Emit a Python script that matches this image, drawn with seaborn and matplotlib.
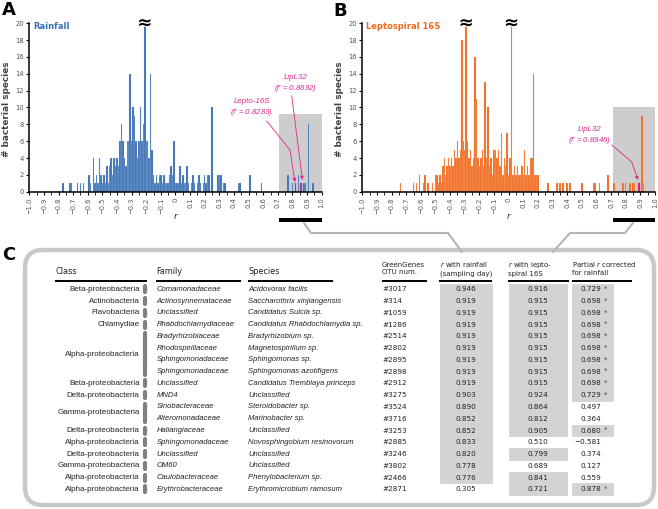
import numpy as np
import seaborn as sns
import matplotlib.pyplot as plt
import matplotlib.transforms as mtransforms
from matplotlib.patches import Rectangle, FancyBboxPatch
from matplotlib import patheffects as pe

# ---- panel A: species correlation with rainfall (bin centre r, count) ----
rain_r = [-0.77, -0.72, -0.71, -0.67, -0.65, -0.63, -0.59, -0.58, -0.56, -0.55,
          -0.54, -0.53, -0.52, -0.51, -0.50, -0.49, -0.48, -0.47, -0.46, -0.45,
          -0.44, -0.43, -0.42, -0.41, -0.40, -0.39, -0.38, -0.37, -0.36, -0.35,
          -0.34, -0.33, -0.32, -0.31, -0.30, -0.29, -0.28, -0.27, -0.26, -0.25,
          -0.24, -0.23, -0.22, -0.21, -0.20, -0.19, -0.18, -0.17, -0.16, -0.15,
          -0.14, -0.13, -0.12, -0.11, -0.10, -0.09, -0.08, -0.07, -0.06, -0.05,
          -0.04, -0.03, -0.02, -0.01, 0.00, 0.01, 0.02, 0.03, 0.04, 0.05,
          0.06, 0.07, 0.08, 0.09, 0.11, 0.12, 0.13, 0.15, 0.16, 0.17,
          0.19, 0.20, 0.21, 0.22, 0.23, 0.25, 0.29, 0.30, 0.31, 0.33,
          0.34, 0.43, 0.44, 0.51, 0.59, 0.77, 0.80, 0.84, 0.88, 0.89,
          0.91, 0.94]
rain_n = [1, 1, 1, 1, 1, 1, 2, 1, 4, 1,
          2, 1, 4, 2, 1, 2, 1, 3, 1, 3,
          4, 2, 4, 3, 4, 3, 6, 8, 6, 4,
          3, 6, 6, 14, 6, 10, 9, 6, 4, 6,
          10, 6, 8, 21, 6, 6, 4, 14, 5, 2,
          1, 2, 1, 2, 2, 1, 2, 1, 1, 1,
          2, 3, 2, 6, 1, 1, 1, 3, 1, 2,
          1, 1, 3, 1, 1, 2, 1, 1, 2, 1,
          1, 2, 1, 2, 2, 10, 2, 2, 2, 1,
          1, 1, 1, 2, 1, 2, 1, 2, 1, 1,
          8, 1]
rain_hi_r = [0.82, 0.86]          # Lepto-16S and LipL32
rain_hi_n = [1, 1]
rain_broken = [-0.21]

# ---- panel B: species correlation with leptospiral 16S ----
lepto_r = [-0.74, -0.65, -0.63, -0.61, -0.58, -0.57, -0.55, -0.52, -0.50, -0.49,
           -0.48, -0.47, -0.46, -0.45, -0.44, -0.43, -0.42, -0.41, -0.40, -0.39,
           -0.38, -0.37, -0.36, -0.35, -0.34, -0.33, -0.32, -0.31, -0.30, -0.29,
           -0.28, -0.27, -0.26, -0.25, -0.24, -0.23, -0.22, -0.21, -0.20, -0.19,
           -0.18, -0.17, -0.16, -0.15, -0.14, -0.13, -0.12, -0.11, -0.10, -0.09,
           -0.08, -0.07, -0.06, -0.05, -0.04, -0.03, -0.02, -0.01, 0.00, 0.01,
           0.02, 0.03, 0.04, 0.05, 0.06, 0.07, 0.08, 0.09, 0.10, 0.11,
           0.12, 0.13, 0.14, 0.15, 0.16, 0.17, 0.18, 0.19, 0.20, 0.27,
           0.33, 0.35, 0.37, 0.40, 0.42, 0.50, 0.58, 0.59, 0.62, 0.68,
           0.72, 0.78, 0.80, 0.83, 0.85, 0.86, 0.91, 0.92]
lepto_n = [1, 1, 1, 2, 1, 2, 1, 1, 2, 2,
           1, 2, 1, 3, 4, 2, 3, 4, 3, 4,
           3, 5, 4, 6, 4, 5, 18, 6, 5, 21,
           6, 4, 5, 3, 4, 16, 11, 4, 3, 4,
           5, 3, 13, 4, 10, 3, 4, 2, 5, 5,
           4, 5, 3, 7, 2, 4, 3, 7, 2, 4,
           21, 2, 3, 2, 3, 2, 2, 3, 2, 5,
           2, 3, 2, 4, 4, 14, 2, 2, 2, 1,
           1, 1, 1, 1, 1, 1, 1, 1, 1, 2,
           1, 1, 1, 1, 1, 1, 9, 1]
lepto_hi_r = [0.89]               # LipL32
lepto_hi_n = [1]
lepto_broken = [-0.29, 0.02]

r_ticks = [-1.0, -0.9, -0.8, -0.7, -0.6, -0.5, -0.4, -0.3, -0.2, -0.1, 0.0,
           0.1, 0.2, 0.3, 0.4, 0.5, 0.6, 0.7, 0.8, 0.9, 1.0]
r_tick_labels = ["\u22121.0", "\u22120.9", "\u22120.8", "\u22120.7", "\u22120.6",
                 "\u22120.5", "\u22120.4", "\u22120.3", "\u22120.2", "\u22120.1", "0",
                 "0.1", "0.2", "0.3", "0.4", "0.5", "0.6", "0.7", "0.8", "0.9", "1.0"]
count_ticks = [0, 2, 4, 6, 8, 10, 12, 14, 16, 18, 20]

# ---- panel C: table ----
class_names = ["Beta-proteobacteria", "Actinobacteria", "Flavobacteria", "Chlamydiae",
               "Alpha-proteobacteria", "Beta-proteobacteria", "Delta-proteobacteria",
               "Gamma-proteobacteria", "Delta-proteobacteria", "Alpha-proteobacteria",
               "Delta-proteobacteria", "Gamma-proteobacteria", "Alpha-proteobacteria",
               "Alpha-proteobacteria"]
class_rows = [1, 1, 1, 1, 4, 1, 1, 2, 1, 1, 1, 1, 1, 1]
families = ["Comamonadaceae", "Actinosynnemataceae", "Unclassified", "Rhabdochlamydiaceae",
            "Bradyrhizobiaceae", "Rhodospirillaceae", "Sphingomonadaceae", "Sphingomonadaceae",
            "Unclassified", "MND4", "Sinobacteraceae", "Alteromonadaceae", "Haliangiaceae",
            "Sphingomonadaceae", "Unclassified", "OM60", "Caulobacteraceae", "Erythrobacteraceae"]
species = ["Acidovorax facilis", "Saccharothrix xinjiangensis", "Candidatus Sulcia sp.",
           "Candidatus Rhabdochlamydia sp.", "Bradyrhizobium sp.", "Magnetospirillum sp.",
           "Sphingomonas sp.", "Sphingomonas azotifigens", "Candidatus Tremblaya princeps",
           "Unclassified", "Steroidobacter sp.", "Marinobacter sp.", "Unclassified",
           "Novosphingobium resinovorum", "Unclassified", "Unclassified",
           "Phenylobacterium sp.", "Erythromicrobium ramosum"]
otu_ids = ["#3017", "#314", "#1059", "#1286", "#2514", "#2802", "#2895", "#2898", "#2912",
           "#3275", "#3524", "#3716", "#3253", "#2885", "#3246", "#3802", "#2466", "#2871"]
r_rainfall = [0.946, 0.919, 0.919, 0.919, 0.919, 0.919, 0.919, 0.919, 0.919,
              0.903, 0.890, 0.852, 0.852, 0.833, 0.820, 0.778, 0.776, 0.305]
r_lepto = [0.916, 0.915, 0.915, 0.915, 0.915, 0.915, 0.915, 0.915, 0.915,
           0.924, 0.864, 0.812, 0.905, 0.510, 0.799, 0.689, 0.841, 0.721]
r_partial = [0.729, 0.698, 0.698, 0.698, 0.698, 0.698, 0.698, 0.698, 0.698,
             0.729, 0.497, 0.364, 0.680, -0.581, 0.374, 0.127, 0.559, 0.878]
partial_sig = [True] * 10 + [False, False, True, False, False, False, False, True]

BLUE = "#3a6fb2"
ORANGE = "#f06a1f"
MAGENTA = "#e0268f"
SHADE = "#d3d3d3"

plt.rcParams["font.family"] = ["DejaVu Sans"]
fig = plt.figure(figsize=(6.58, 5.09), dpi=100)

# pixel overlay for the table, connectors and panel letters
ov = fig.add_axes([0, 0, 1, 1], zorder=0)
ov.set_xlim(0, 658)
ov.set_ylim(509, 0)
ov.axis("off")


def hist_panel(rect, r, n, hi_r, hi_n, color, edge, hi_color, title, broken, box_top):
    ax = fig.add_axes(rect, zorder=1)
    ax.patch.set_alpha(0)
    ax.add_patch(Rectangle((0.71, 0), 0.29, box_top, color="#cdcdcd", lw=0, zorder=0))
    sns.histplot(x=r, weights=n, binwidth=0.01, binrange=(-1.005, 1.005),
                 color=color, alpha=1, edgecolor=edge, linewidth=0.15, ax=ax)
    sns.histplot(x=hi_r, weights=hi_n, binwidth=0.01, binrange=(-1.005, 1.005),
                 color=hi_color, alpha=1, edgecolor=hi_color, linewidth=0.15, ax=ax)
    for b in broken:
        ax.text(b, 20.0, "\u2248", ha="center", va="center", fontsize=13,
                fontweight="bold", color="black", zorder=5,
                path_effects=[pe.withStroke(linewidth=1.5, foreground="white")])
    ax.set_xlim(-1.0, 1.0)
    ax.set_ylim(0, 20.5)
    ax.set_xticks(r_ticks)
    ax.set_xticklabels(r_tick_labels, rotation=90, fontsize=4.9, color="#555555")
    ax.set_xticks(np.array(r_ticks[:-1]) + 0.05, minor=True)
    ax.set_yticks(count_ticks)
    ax.set_yticklabels([str(c) for c in count_ticks], fontsize=4.9, color="#555555")
    ax.tick_params(axis="both", which="major", length=2.5, width=0.8, pad=1.5)
    ax.tick_params(axis="x", which="minor", length=1.8, width=0.6)
    for s in ["top", "right"]:
        ax.spines[s].set_visible(False)
    for s in ["left", "bottom"]:
        ax.spines[s].set_linewidth(1.1)
    ax.spines["left"].set_bounds(0, 20)
    ax.set_ylabel("# bacterial species", fontsize=6.4, fontweight="bold", color="#444444")
    ax.yaxis.set_label_coords(-0.062, 0.48)
    ax.set_xlabel("r", fontsize=6.5, style="italic", color="#333333")
    ax.xaxis.set_label_coords(0.5, -0.12)
    ax.text(0.013, 0.985, title, transform=ax.transAxes, fontsize=6, fontweight="bold",
            color=color, ha="left", va="top")
    # black bar marking the zoomed range
    tr = mtransforms.blended_transform_factory(ax.transData, ax.transAxes)
    ax.add_patch(Rectangle((0.71, -0.178), 0.29, 0.026, transform=tr, color="black",
                           clip_on=False, lw=0))
    return ax


axA = hist_panel([0.0445, 0.6234, 0.4444, 0.3391], rain_r, rain_n, rain_hi_r, rain_hi_n,
                 BLUE, "#b8d0ec", "#8e44ad", "Rainfall", rain_broken, 9.2)
axB = hist_panel([0.5506, 0.6234, 0.4448, 0.3391], lepto_r, lepto_n, lepto_hi_r, lepto_hi_n,
                 ORANGE, "#fbc6a2", "#e0206e", "Leptospiral 16S", lepto_broken, 10.0)

ann_font = dict(family="Liberation Sans", style="italic", fontsize=5.7, color=MAGENTA,
                ha="center", va="center", linespacing=1.15)
arrow = dict(arrowstyle="-|>", color=MAGENTA, lw=0.6, mutation_scale=5, shrinkA=0, shrinkB=0)

axA.text(0.523, 9.9, "Lepto-16S\n($r$ = 0.8283)", **ann_font)
axA.plot([0.624, 0.783], [8.4, 4.95], color=MAGENTA, lw=0.6)
axA.annotate("", xy=(0.817, 1.15), xytext=(0.783, 4.95), arrowprops=arrow)
axA.text(0.824, 12.8, "LipL32\n($r$ = 0.8692)", **ann_font)
axA.annotate("", xy=(0.868, 1.4), xytext=(0.795, 11.4), arrowprops=arrow)

axB.text(0.553, 6.6, "LipL32\n($r$ = 0.8946)", **ann_font)
axB.plot([0.705, 0.841], [5.55, 3.53], color=MAGENTA, lw=0.6)
axB.annotate("", xy=(0.884, 1.4), xytext=(0.841, 3.53), arrowprops=arrow)

# panel letters
for x, y, letter in [(2, 1, "A"), (333, 2, "B"), (2, 246, "C")]:
    ov.text(x, y, letter, fontsize=13, fontweight="bold", ha="left", va="top")

# connectors from zoomed ranges to table columns
ov.plot([304, 311, 448, 462], [223, 233, 233, 252], color="#b5b5b5", lw=1.5,
        solid_joinstyle="round", solid_capstyle="round")
ov.plot([633, 625, 570, 553], [223, 233, 233, 252], color="#b5b5b5", lw=1.5,
        solid_joinstyle="round", solid_capstyle="round")

# table frame
ov.add_patch(FancyBboxPatch((25, 250), 629, 255, boxstyle="round,pad=0,rounding_size=18",
                            fill=False, edgecolor="#c9c9c9", lw=3.2))

row_y = 289.4 + 11.76 * np.arange(len(otu_ids))
half = 5.88

# shaded cells
for i in range(len(otu_ids)):
    if r_rainfall[i] > 0.7:
        ov.add_patch(Rectangle((440, row_y[i] - half), 52, 2 * half, color=SHADE, lw=0.6))
    if r_lepto[i] > 0.7:
        ov.add_patch(Rectangle((509, row_y[i] - half), 58, 2 * half, color=SHADE, lw=0.6))
    if partial_sig[i]:
        ov.add_patch(Rectangle((572, row_y[i] - half), 41, 2 * half, color=SHADE, lw=0.6))

# headers
hdr = dict(fontsize=5.9, ha="left", va="center", color="#222222")
ov.text(55, 271.5, "Class", **hdr)
ov.text(156.7, 271.5, "Family", **hdr)
ov.text(248.3, 271.5, "Species", **hdr)
hdr2 = dict(fontsize=5.0, ha="left", va="center", color="#222222", linespacing=1.25)
ov.text(382, 268.3, "GreenGenes\nOTU num.", **hdr2)
ov.text(439.5, 268.3, "$r$ with rainfall\n(sampling day)", **hdr2)
ov.text(508.5, 268.3, "$r$ with lepto-\nspiral 16S", **hdr2)
ov.text(572, 268.3, "Partial $r$ corrected\nfor rainfall", **hdr2)
for x0, x1 in [(55, 147), (156, 241), (248, 333), (382, 427), (439, 492), (508, 569), (572, 632)]:
    ov.plot([x0, x1], [280.5, 280.5], color="black", lw=1.4, solid_capstyle="butt")

# class column with group bars
start = 0
for name, k in zip(class_names, class_rows):
    ys = row_y[start:start + k]
    ov.text(139.5, ys.mean(), name, family="Liberation Sans", fontsize=5.8,
            ha="right", va="center", color="#222222")
    ov.plot([145, 145], [ys[0] - 3, ys[-1] + 3], color="#808080", lw=3.0,
            solid_capstyle="round")
    start += k

name_font = dict(family="Liberation Sans", style="italic", fontsize=5.5, ha="left",
                 va="center", color="#222222")
num_font = dict(fontsize=5.2, va="center", color="#222222")
for i, y in enumerate(row_y):
    ov.text(156.7, y, families[i], **name_font)
    ov.text(248.3, y, species[i], **name_font)
    ov.text(382, y, otu_ids[i], ha="left", **num_font)
    ov.text(466, y, f"{r_rainfall[i]:.3f}", ha="center", **num_font)
    ov.text(537.5, y, f"{r_lepto[i]:.3f}", ha="center", **num_font)
    ov.text(601.5, y, f"{r_partial[i]:.3f}".replace("-", "\u2212"), ha="right", **num_font)
    if partial_sig[i]:
        ov.text(603.5, y - 0.5, "*", ha="left", va="center", fontsize=5.0, color="#444444")

fig.savefig("out.png", dpi=100)
